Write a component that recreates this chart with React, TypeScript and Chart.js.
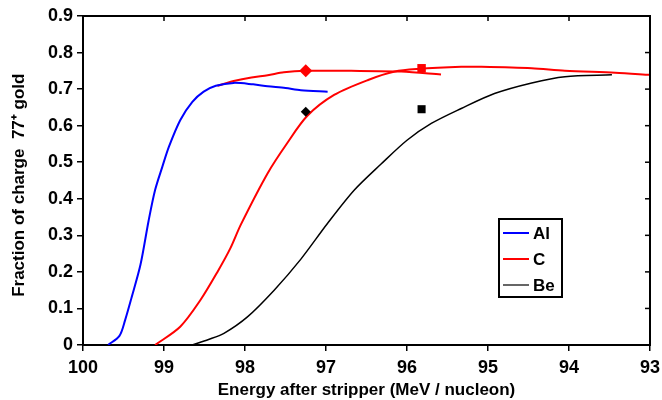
import React, { useEffect, useRef } from 'react';
import { Chart, registerables } from 'chart.js';

Chart.register(...registerables);

// ---- data ----
const alEnergy = [99.69, 99.55, 99.48, 99.40, 99.29, 99.19, 99.11, 99.02, 98.94, 98.80, 98.65, 98.51, 98.36, 98.14, 97.90, 97.72, 97.50, 97.31, 96.98];
const alFraction = [0, 0.025, 0.068, 0.13, 0.22, 0.34, 0.424, 0.488, 0.542, 0.615, 0.665, 0.693, 0.709, 0.717, 0.713, 0.708, 0.703, 0.697, 0.693];

const cEnergy = [99.11, 98.80, 98.55, 98.34, 98.18, 98.05, 97.72, 97.48, 97.23, 96.90, 96.48, 96.15, 95.87, 95.33, 95.08, 94.46, 94.05, 93.43, 93.0];
const cFraction = [0, 0.05, 0.123, 0.2, 0.265, 0.33, 0.47, 0.552, 0.627, 0.684, 0.725, 0.748, 0.755, 0.761, 0.761, 0.757, 0.750, 0.745, 0.739];

const cMeasEnergy = [98.34, 98.14, 97.92, 97.72, 97.52, 97.25, 96.69, 96.07, 95.58];
const cMeasFraction = [0.709, 0.722, 0.732, 0.738, 0.746, 0.75, 0.75, 0.748, 0.74];

const beEnergy = [98.65, 98.45, 98.26, 97.97, 97.64, 97.31, 96.98, 96.65, 96.32, 96.0, 95.70, 95.33, 94.92, 94.46, 94.05, 93.47];
const beFraction = [0, 0.015, 0.032, 0.077, 0.15, 0.235, 0.333, 0.424, 0.495, 0.56, 0.606, 0.647, 0.688, 0.717, 0.734, 0.739];

const redDiamond = { x: 97.25, y: 0.75 };
const redSquare = { x: 95.82, y: 0.757 };
const blackDiamond = { x: 97.25, y: 0.638 };
const blackSquare = { x: 95.82, y: 0.645 };

const xTicks = [93, 94, 95, 96, 97, 98, 99, 100];
const xTickLabels = ['93', '94', '95', '96', '97', '98', '99', '100'];
const yTicks = [0, 0.1, 0.2, 0.3, 0.4, 0.5, 0.6, 0.7, 0.8, 0.9];
const yTickLabels = ['0', '0.1', '0.2', '0.3', '0.4', '0.5', '0.6', '0.7', '0.8', '0.9'];

const legendLabels = ['Al', 'C', 'Be'];

const FONT = "'Liberation Sans', Arial, Helvetica, sans-serif";

const pts = (xs: number[], ys: number[]) => xs.map((x, i) => ({ x, y: ys[i] }));

const framePlugin = {
  id: 'frameAndLegend',
  afterDraw(chart: any) {
    const { ctx, chartArea } = chart;
    const { left, right, top, bottom } = chartArea;
    const xs = chart.scales.x;
    const ys = chart.scales.y;
    ctx.save();
    ctx.strokeStyle = '#000';
    ctx.lineWidth = 2;
    ctx.beginPath();
    ctx.moveTo(left - 1, top);
    ctx.lineTo(right, top);
    ctx.lineTo(right, bottom + 1);
    ctx.stroke();
    ctx.lineWidth = 1.5;
    xs.ticks.forEach((t: any) => {
      const px = xs.getPixelForValue(t.value);
      ctx.beginPath();
      ctx.moveTo(px, top);
      ctx.lineTo(px, top + 5);
      ctx.stroke();
    });
    ys.ticks.forEach((t: any) => {
      const py = ys.getPixelForValue(t.value);
      ctx.beginPath();
      ctx.moveTo(right, py);
      ctx.lineTo(right - 5, py);
      ctx.stroke();
    });

    // legend box
    const lx = right - 151;
    const ly = top + 203;
    const lw = 63;
    const lh = 78;
    ctx.fillStyle = '#fff';
    ctx.fillRect(lx, ly, lw, lh);
    ctx.lineWidth = 2;
    ctx.strokeStyle = '#000';
    ctx.strokeRect(lx, ly, lw, lh);
    const items = chart.data.datasets.filter((d: any) => legendLabels.includes(d.label));
    items.forEach((d: any, i: number) => {
      const cy = ly + 14 + i * 26;
      ctx.strokeStyle = d.borderColor;
      ctx.lineWidth = d.label === 'Be' ? 1.2 : 2;
      ctx.beginPath();
      ctx.moveTo(lx + 4, cy);
      ctx.lineTo(lx + 30, cy);
      ctx.stroke();
      ctx.fillStyle = '#000';
      ctx.font = `bold 17px ${FONT}`;
      ctx.textBaseline = 'middle';
      ctx.textAlign = 'left';
      ctx.fillText(d.label, lx + 34, cy + 1);
    });
    ctx.restore();
  },
};

export default function App() {
  const ref = useRef<HTMLCanvasElement | null>(null);
  useEffect(() => {
    if (!ref.current) return;
    const chart = new Chart(ref.current, {
      type: 'scatter',
      data: {
        datasets: [
          { label: 'red diamond', data: [redDiamond], pointStyle: 'rectRot', pointRadius: 6.5, backgroundColor: '#ff0000', borderColor: '#ff0000', borderWidth: 0, showLine: false },
          { label: 'red square', data: [redSquare], pointStyle: 'rect', pointRadius: 6, backgroundColor: '#ff0000', borderColor: '#ff0000', borderWidth: 0, showLine: false },
          { label: 'black diamond', data: [blackDiamond], pointStyle: 'rectRot', pointRadius: 5, backgroundColor: '#000', borderColor: '#000', borderWidth: 0, showLine: false },
          { label: 'black square', data: [blackSquare], pointStyle: 'rect', pointRadius: 5.7, backgroundColor: '#000', borderColor: '#000', borderWidth: 0, showLine: false },
          { label: 'Al', data: pts(alEnergy, alFraction), borderColor: '#0000ff', backgroundColor: '#0000ff', borderWidth: 2, showLine: true, pointRadius: 0, tension: 0.3 },
          { label: 'C', data: pts(cEnergy, cFraction), borderColor: '#ff0000', backgroundColor: '#ff0000', borderWidth: 2, showLine: true, pointRadius: 0, tension: 0.3 },
          { label: 'C measured', data: pts(cMeasEnergy, cMeasFraction), borderColor: '#ff0000', backgroundColor: '#ff0000', borderWidth: 2, showLine: true, pointRadius: 0, tension: 0.3 },
          { label: 'Be', data: pts(beEnergy, beFraction), borderColor: '#000', backgroundColor: '#000', borderWidth: 1.5, showLine: true, pointRadius: 0, tension: 0.3 },
        ],
      },
      options: {
        responsive: false,
        animation: false,
        layout: { padding: { left: 0, top: 16, right: 12, bottom: 0 } },
        plugins: {
          legend: { display: false },
          tooltip: { enabled: false },
        },
        scales: {
          x: {
            type: 'linear',
            reverse: true,
            min: 93,
            max: 100,
            afterBuildTicks: (scale: any) => { scale.ticks = xTicks.map((v) => ({ value: v })); },
            afterFit: (scale: any) => { scale.height = 55; },
            ticks: {
              color: '#000',
              font: { family: FONT, size: 18, weight: 'bold' },
              padding: 6,
              maxRotation: 0,
              callback: (v: any) => xTickLabels[xTicks.indexOf(Number(v))] ?? '',
            },
            grid: { display: true, drawOnChartArea: false, drawTicks: true, tickLength: 6, color: '#000', lineWidth: 1.5 },
            border: { display: true, color: '#000', width: 2 },
            title: {
              display: true,
              text: 'Energy after stripper (MeV / nucleon)',
              color: '#000',
              font: { family: FONT, size: 17, weight: 'bold' },
              padding: { top: 0, bottom: -1 },
            },
          },
          y: {
            type: 'linear',
            min: 0,
            max: 0.9,
            afterBuildTicks: (scale: any) => { scale.ticks = yTicks.map((v) => ({ value: v })); },
            afterFit: (scale: any) => { scale.width = 83; },
            ticks: {
              color: '#000',
              font: { family: FONT, size: 18, weight: 'bold' },
              padding: 4,
              callback: (v: any) => {
                const i = yTicks.findIndex((t) => Math.abs(t - Number(v)) < 1e-9);
                return i >= 0 ? yTickLabels[i] : '';
              },
            },
            grid: { display: true, drawOnChartArea: false, drawTicks: true, tickLength: 6, color: '#000', lineWidth: 1.5 },
            border: { display: true, color: '#000', width: 2 },
            title: {
              display: true,
              text: 'Fraction of charge  77\u207A gold  ',
              color: '#000',
              font: { family: FONT, size: 17, weight: 'bold' },
              padding: { top: 9, bottom: 0 },
            },
          },
        },
      },
      plugins: [framePlugin],
    } as any);
    return () => chart.destroy();
  }, []);
  return (
    <div style={{ position: 'absolute', left: 0, top: 0, width: 662, height: 400, background: '#fff' }}>
      <canvas ref={ref} width={662} height={400} />
    </div>
  );
}
